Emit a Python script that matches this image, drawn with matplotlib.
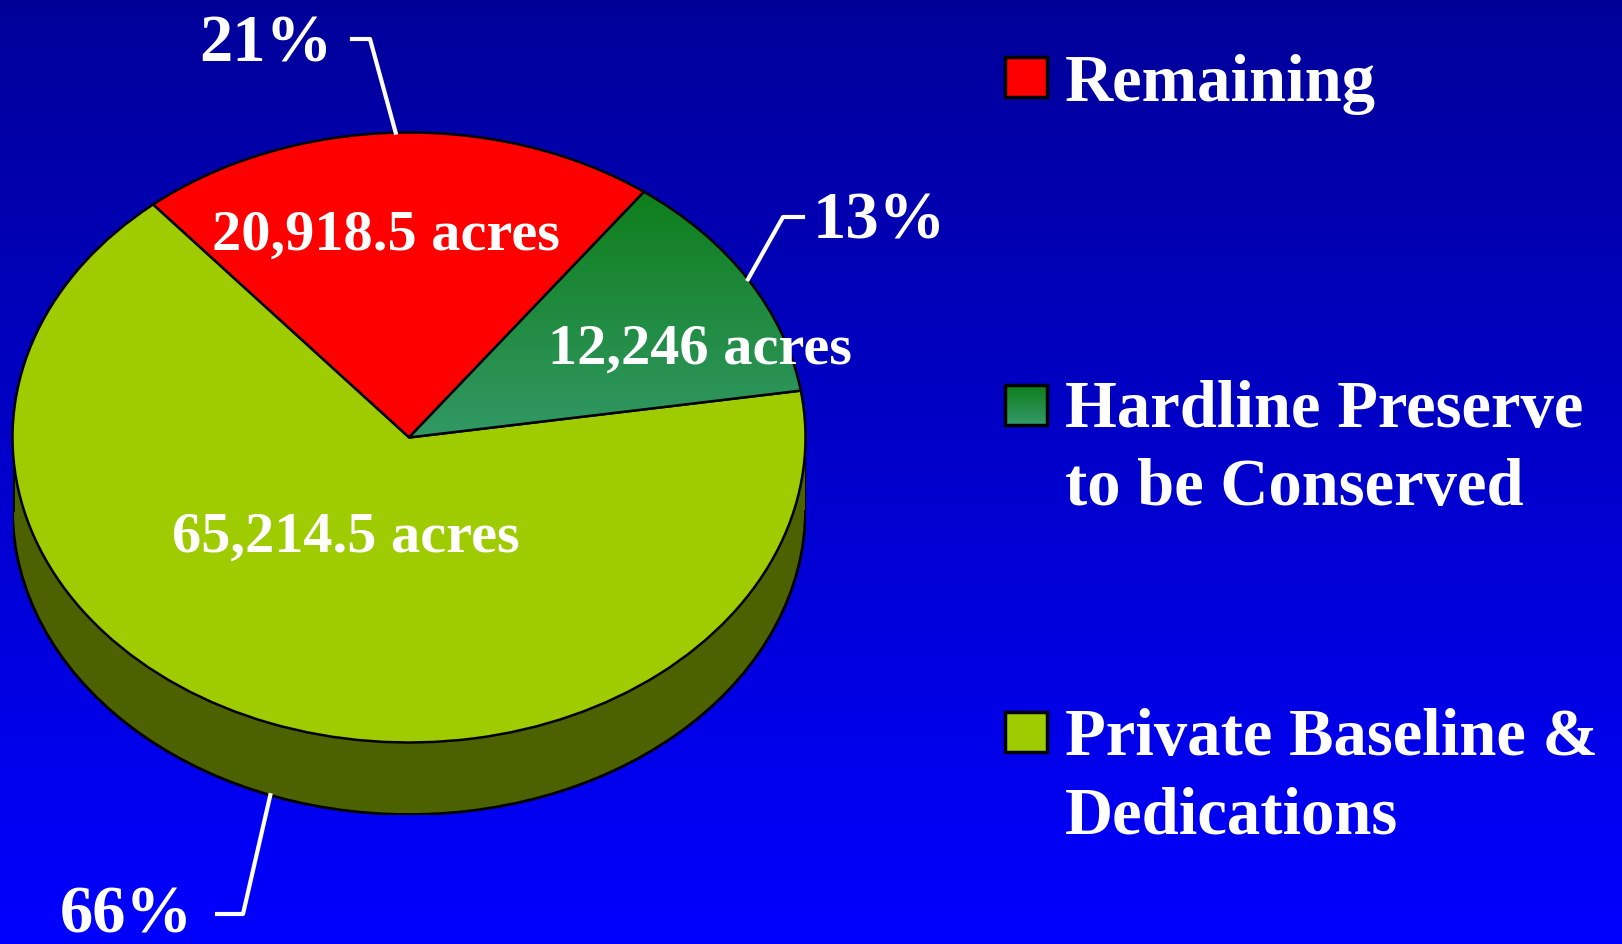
import numpy as np
import matplotlib
matplotlib.use("Agg")
import matplotlib.pyplot as plt
from matplotlib.patches import Rectangle, Ellipse

# data
labels = ["Remaining", "Hardline Preserve\nto be Conserved", "Private Baseline &\nDedications"]
acres = [20918.5, 12246, 65214.5]
acre_labels = ["20,918.5 acres", "12,246 acres", "65,214.5 acres"]
pct_labels = ["21%", "13%", "66%"]
colors = ["#FF0000", "#1E8A3C", "#9ECC00"]
side_color = "#4C6200"

W, H = 1622, 944
fig = plt.figure(figsize=(W / 100, H / 100), dpi=100)
plt.rcParams['font.family'] = ['Liberation Serif', 'DejaVu Serif']

# background gradient, pixel coords
bg = fig.add_axes([0, 0, 1, 1])
grad = np.linspace(0, 1, 256)[:, None]
top = np.array([0, 0, 0x99]) / 255
bot = np.array([0, 0, 0xFF]) / 255
img = top + (bot - top) * grad[:, :, None]
bg.imshow(img, extent=[0, W, H, 0], aspect='auto', zorder=0)
bg.set_xlim(0, W)
bg.set_ylim(H, 0)
bg.axis('off')

# pie geometry (pixels)
cx, cy = 409, 437.5
rx, ry = 396.5, 305
depth = 72
d = depth / ry

pax = fig.add_axes([(cx - rx) / W, (H - (cy + ry + depth)) / H, 2 * rx / W, (2 * ry + depth) / H])
pax.patch.set_alpha(0)

# side of the cylinder
pax.add_patch(Ellipse((0, -d), 2, 2, facecolor=side_color, edgecolor='black', lw=2, zorder=1))
pax.add_patch(Rectangle((-1, -d), 2, d, facecolor=side_color, edgecolor='none', zorder=1))
pax.plot([-1, -1], [-d, 0], color='black', lw=2, zorder=1)
pax.plot([1, 1], [-d, 0], color='black', lw=2, zorder=1)

start = 130.2
wedges, _ = pax.pie(acres, colors=colors, startangle=start, counterclock=False,
                    radius=1, wedgeprops=dict(edgecolor='black', linewidth=1.8))
for w in wedges:
    w.set_zorder(2)

# green gradient on the hardline wedge
g_top = np.array([0x0E, 0x7E, 0x1A]) / 255
g_bot = np.array([0x34, 0x9A, 0x6A]) / 255
gg = np.linspace(0, 1, 256)[:, None]
gimg = g_top + (g_bot - g_top) * gg[:, :, None]
gi = pax.imshow(np.repeat(gimg, 2, axis=1), extent=[-0.05, 1.05, -0.05, 0.82], aspect='auto', zorder=2.5)
gi.set_clip_path(wedges[1])
wedges[1].set_facecolor('none')
wedges[1].set_zorder(3)

pax.set_aspect('auto')
pax.set_xlim(-1, 1)
pax.set_ylim(-1 - d, 1)
pax.axis('off')

# overlay for labels, leader lines and legend
ov = fig.add_axes([0, 0, 1, 1])
ov.patch.set_alpha(0)
ov.axis('off')

# acre labels in the wedges (pixel positions of label centres)
acre_pos = [(386, 236), (700, 350), (346, 538)]
for (x, y), t in zip(acre_pos, acre_labels):
    ov.text(x, y, t, color='white', fontsize=42, fontweight='bold',
            ha='center', va='center', zorder=5)

# percentage labels with leader lines
fracs = np.array(acres) / sum(acres)
ang = start
mids = []
for f in fracs:
    mids.append(ang - f * 180)
    ang -= f * 360
tips = []
for i, m in enumerate(mids):
    t = np.radians(m)
    px = cx + rx * np.cos(t)
    py = cy - ry * np.sin(t)
    if np.sin(t) < 0:
        py += depth
    tips.append((px, py))

pct_pos = [(266, 45), (879, 222), (126, 916)]
elbows = [[(352, 39), (370, 39)], [(803, 217), (783, 217)], [(217, 914), (243, 914)]]
for i in range(3):
    (e1, e2) = elbows[i]
    ov.plot([e1[0], e2[0], tips[i][0]], [e1[1], e2[1], tips[i][1]], color='white', lw=3, zorder=6)
    ov.text(pct_pos[i][0], pct_pos[i][1], pct_labels[i], color='white', fontsize=48,
            fontweight='bold', ha='center', va='center', zorder=6)

# legend
sw_y = [57, 385, 712]
base_y = [101, 427, 755]
for i in range(3):
    if i == 1:
        ov.imshow(np.repeat(gimg, 2, axis=1), extent=[1005, 1047, sw_y[i] + 40, sw_y[i]],
                  aspect='auto', zorder=3)
        ov.add_patch(Rectangle((1005, sw_y[i]), 42, 40, facecolor='none', edgecolor='black', lw=2.5, zorder=4))
    else:
        ov.add_patch(Rectangle((1005, sw_y[i]), 42, 40, facecolor=colors[i], edgecolor='black', lw=2.5, zorder=4))
    for k, line in enumerate(labels[i].split("\n")):
        ov.text(1065, base_y[i] + k * 78, line, color='white', fontsize=48, fontweight='bold',
                ha='left', va='baseline', zorder=4)
ov.set_xlim(0, W)
ov.set_ylim(H, 0)

fig.savefig("out.png", dpi=100)
